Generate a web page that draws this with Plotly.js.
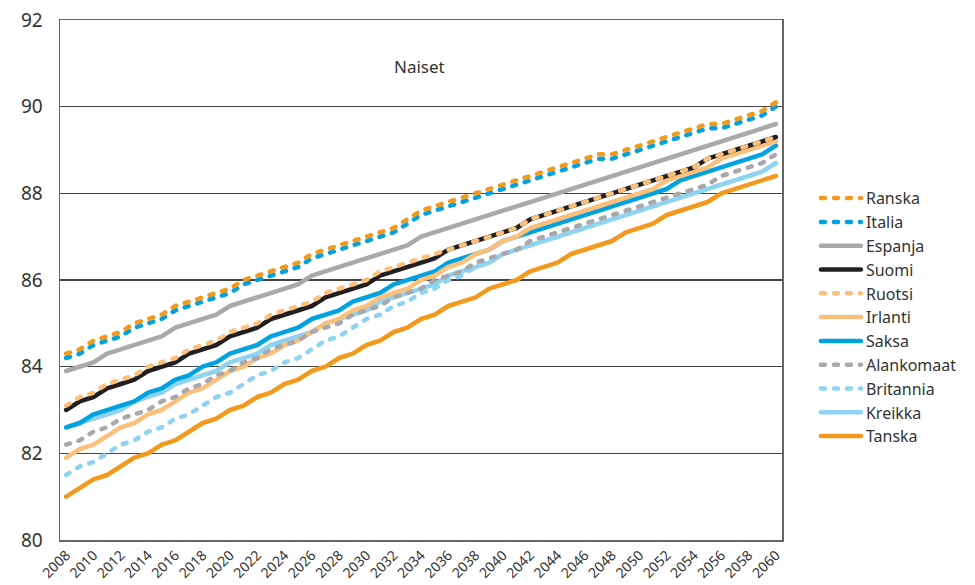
<!DOCTYPE html>
<html>
<head>
<meta charset="utf-8">
<script src="https://cdn.plot.ly/plotly-3.0.1.min.js"></script>
<style>
html, body { margin: 0; padding: 0; background: #fff; }
#chart { width: 975px; height: 585px; }
.scatterlayer path.js-line { stroke-linecap: round; stroke-linejoin: round; }
.legend path.js-line { stroke-linecap: round; }
</style>
</head>
<body>
<div id="chart"></div>
<script>
const years = [];
for (let y = 2008; y <= 2060; y++) years.push(y);

const ranska = [84.3,84.4,84.6,84.7,84.8,85.0,85.1,85.2,85.4,85.5,85.6,85.7,85.8,86.0,86.1,86.2,86.3,86.4,86.6,86.7,86.8,86.9,87.0,87.1,87.2,87.4,87.6,87.7,87.8,87.9,88.0,88.1,88.2,88.3,88.4,88.5,88.6,88.7,88.8,88.9,88.9,89.0,89.1,89.2,89.3,89.4,89.5,89.6,89.6,89.7,89.8,89.9,90.1];
const italia = [84.2,84.3,84.5,84.6,84.7,84.9,85.0,85.1,85.3,85.4,85.5,85.6,85.7,85.9,86.0,86.1,86.2,86.3,86.5,86.6,86.7,86.8,86.9,87.0,87.1,87.3,87.5,87.6,87.7,87.8,87.9,88.0,88.1,88.2,88.3,88.4,88.5,88.6,88.7,88.8,88.8,88.9,89.0,89.1,89.2,89.3,89.4,89.5,89.5,89.6,89.7,89.8,90.0];
const espanja = [83.9,84.0,84.1,84.3,84.4,84.5,84.6,84.7,84.9,85.0,85.1,85.2,85.4,85.5,85.6,85.7,85.8,85.9,86.1,86.2,86.3,86.4,86.5,86.6,86.7,86.8,87.0,87.1,87.2,87.3,87.4,87.5,87.6,87.7,87.8,87.9,88.0,88.1,88.2,88.3,88.4,88.5,88.6,88.7,88.8,88.9,89.0,89.1,89.2,89.3,89.4,89.5,89.6];
const suomi = [83.0,83.2,83.3,83.5,83.6,83.7,83.9,84.0,84.1,84.3,84.4,84.5,84.7,84.8,84.9,85.1,85.2,85.3,85.4,85.6,85.7,85.8,85.9,86.1,86.2,86.3,86.4,86.5,86.7,86.8,86.9,87.0,87.1,87.2,87.4,87.5,87.6,87.7,87.8,87.9,88.0,88.1,88.2,88.3,88.4,88.5,88.6,88.8,88.9,89.0,89.1,89.2,89.3];
const ruotsi = [83.1,83.3,83.4,83.6,83.7,83.8,84.0,84.1,84.2,84.4,84.5,84.6,84.8,84.9,85.0,85.2,85.3,85.4,85.5,85.7,85.8,85.9,86.0,86.2,86.3,86.4,86.5,86.6,86.7,86.8,86.9,87.0,87.1,87.2,87.4,87.5,87.6,87.7,87.8,87.9,88.0,88.1,88.2,88.3,88.4,88.5,88.6,88.8,88.9,89.0,89.1,89.2,89.3];
const irlanti = [81.9,82.1,82.2,82.4,82.6,82.7,82.9,83.0,83.2,83.4,83.5,83.7,83.9,84.0,84.2,84.3,84.5,84.6,84.8,85.0,85.1,85.3,85.4,85.6,85.7,85.8,86.0,86.1,86.3,86.4,86.6,86.7,86.9,87.0,87.2,87.3,87.4,87.5,87.6,87.7,87.8,87.9,88.0,88.1,88.3,88.4,88.5,88.6,88.8,88.9,89.0,89.1,89.2];
const saksa = [82.6,82.7,82.9,83.0,83.1,83.2,83.4,83.5,83.7,83.8,84.0,84.1,84.3,84.4,84.5,84.7,84.8,84.9,85.1,85.2,85.3,85.5,85.6,85.7,85.9,86.0,86.1,86.2,86.4,86.5,86.6,86.7,86.9,87.0,87.1,87.2,87.3,87.4,87.5,87.6,87.7,87.8,87.9,88.0,88.1,88.3,88.4,88.5,88.6,88.7,88.8,88.9,89.1];
const alankomaat = [82.2,82.3,82.5,82.6,82.8,82.9,83.0,83.2,83.3,83.5,83.6,83.8,83.9,84.1,84.2,84.4,84.5,84.6,84.8,84.9,85.0,85.2,85.3,85.4,85.6,85.7,85.8,86.0,86.1,86.2,86.4,86.5,86.6,86.7,86.9,87.0,87.1,87.2,87.3,87.4,87.5,87.6,87.7,87.8,87.9,88.0,88.1,88.2,88.4,88.5,88.6,88.7,88.9];
const britannia = [81.5,81.7,81.8,82.0,82.2,82.3,82.5,82.6,82.8,82.9,83.1,83.3,83.4,83.6,83.8,83.9,84.1,84.2,84.4,84.6,84.7,84.9,85.1,85.2,85.4,85.5,85.7,85.8,86.0,86.1,86.3,86.4,86.6,86.7,86.8,86.9,87.0,87.1,87.2,87.3,87.4,87.5,87.6,87.7,87.8,87.9,88.0,88.1,88.2,88.3,88.4,88.5,88.7];
const kreikka = [82.6,82.7,82.8,82.9,83.0,83.2,83.3,83.4,83.6,83.7,83.8,83.9,84.1,84.2,84.3,84.5,84.6,84.7,84.8,85.0,85.1,85.2,85.3,85.5,85.6,85.7,85.8,85.9,86.1,86.2,86.3,86.4,86.6,86.7,86.8,86.9,87.0,87.1,87.2,87.3,87.4,87.5,87.6,87.7,87.8,87.9,88.0,88.1,88.2,88.3,88.4,88.5,88.7];
const tanska = [81.0,81.2,81.4,81.5,81.7,81.9,82.0,82.2,82.3,82.5,82.7,82.8,83.0,83.1,83.3,83.4,83.6,83.7,83.9,84.0,84.2,84.3,84.5,84.6,84.8,84.9,85.1,85.2,85.4,85.5,85.6,85.8,85.9,86.0,86.2,86.3,86.4,86.6,86.7,86.8,86.9,87.1,87.2,87.3,87.5,87.6,87.7,87.8,88.0,88.1,88.2,88.3,88.4];

const yTicks = [80, 82, 84, 86, 88, 90, 92];
const xTicks = [];
for (let y = 2008; y <= 2060; y += 2) xTicks.push(y);

const ORANGE = '#F39A1E', BLUE = '#00A3E0', GRAY = '#A9A9AB', BLACK = '#231F20', LORANGE = '#FBC07C', LBLUE = '#8FD3F3';
const DOT = '4px,9px';

// drawing order: solids first, then dotted on top; legendrank gives legend order
const series = [
  {name: 'Espanja', y: espanja, color: GRAY, dash: 'solid', rank: 3},
  {name: 'Tanska', y: tanska, color: ORANGE, dash: 'solid', rank: 11},
  {name: 'Kreikka', y: kreikka, color: LBLUE, dash: 'solid', rank: 10},
  {name: 'Saksa', y: saksa, color: BLUE, dash: 'solid', rank: 7},
  {name: 'Irlanti', y: irlanti, color: LORANGE, dash: 'solid', rank: 6},
  {name: 'Suomi', y: suomi, color: BLACK, dash: 'solid', rank: 4},
  {name: 'Britannia', y: britannia, color: LBLUE, dash: DOT, rank: 9},
  {name: 'Alankomaat', y: alankomaat, color: GRAY, dash: DOT, rank: 8},
  {name: 'Ruotsi', y: ruotsi, color: LORANGE, dash: DOT, rank: 5},
  {name: 'Italia', y: italia, color: BLUE, dash: DOT, rank: 2},
  {name: 'Ranska', y: ranska, color: ORANGE, dash: DOT, rank: 1}
];

const traces = series.map(s => ({
  type: 'scatter', mode: 'lines', name: s.name, x: years, y: s.y,
  legendrank: s.rank,
  line: {color: s.color, width: 4.5, dash: s.dash}
}));

const layout = {
  width: 975, height: 585,
  margin: {l: 60, r: 193, t: 20, b: 45, autoexpand: false},
  paper_bgcolor: '#fff', plot_bgcolor: '#fff',
  font: {family: 'Noto Sans, sans-serif', color: '#333'},
  showlegend: true,
  legend: {
    x: 1.047, xanchor: 'left', y: 0.69, yanchor: 'top',
    font: {size: 16, color: '#333'},
    itemwidth: 40, tracegroupgap: 0, bgcolor: 'rgba(0,0,0,0)'
  },
  xaxis: {
    range: [2007.55, 2060.45], tickvals: xTicks, ticktext: xTicks.map(String),
    tickangle: -45, tickfont: {size: 14, color: '#333'},
    showgrid: false, zeroline: false, showline: true, mirror: true,
    linecolor: '#666', linewidth: 1.5, ticks: ''
  },
  yaxis: {
    range: [80, 92], tickvals: yTicks, ticktext: yTicks.map(String),
    tickfont: {size: 19, color: '#333'}, ticklabelstandoff: 12,
    showgrid: true, gridcolor: '#444', gridwidth: 1.2, zeroline: false,
    showline: true, mirror: true, linecolor: '#666', linewidth: 1.5, ticks: ''
  },
  annotations: [{
    text: 'Naiset', xref: 'paper', yref: 'paper', x: 0.498, y: 0.91,
    xanchor: 'center', yanchor: 'middle', showarrow: false,
    font: {size: 17, color: '#333'}
  }]
};

Plotly.newPlot('chart', traces, layout, {displayModeBar: false, staticPlot: true});
</script>
</body>
</html>
